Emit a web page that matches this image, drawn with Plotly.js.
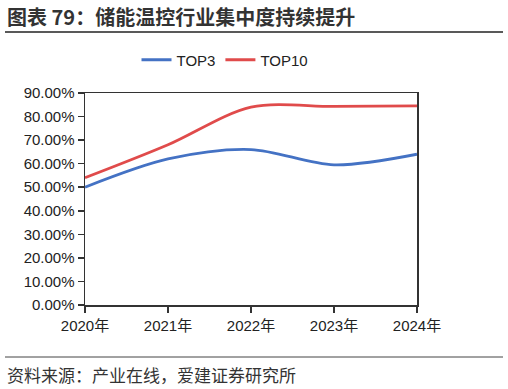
<!DOCTYPE html>
<html>
<head>
<meta charset="utf-8">
<script src="https://cdn.plot.ly/plotly-3.0.1.min.js"></script>
<style>
html,body{margin:0;padding:0;background:#fff;}
#chart{width:508px;height:389px;}
</style>
</head>
<body>
<div id="chart"></div>
<script>
const years = ['2020年', '2021年', '2022年', '2023年', '2024年'];
const top3 = [0.50, 0.62, 0.66, 0.595, 0.64];
const top10 = [0.54, 0.68, 0.84, 0.843, 0.845];
const yTicks = [0, 0.1, 0.2, 0.3, 0.4, 0.5, 0.6, 0.7, 0.8, 0.9];
const titleText = '图表 79：储能温控行业集中度持续提升';
const sourceText = '资料来源：产业在线，爱建证券研究所';

const font = 'Arial, "Liberation Sans", "Noto Sans CJK SC", sans-serif';

const traces = [
  {x: years, y: top3, name: 'TOP3', type: 'scatter', mode: 'lines',
   line: {color: '#4472C4', width: 2.8, shape: 'spline', smoothing: 0.9}},
  {x: years, y: top10, name: 'TOP10', type: 'scatter', mode: 'lines',
   line: {color: '#E04B4B', width: 2.8, shape: 'spline', smoothing: 0.9}}
];

const layout = {
  width: 508, height: 389,
  margin: {l: 85, r: 91, t: 93, b: 84},
  paper_bgcolor: '#fff', plot_bgcolor: '#fff',
  font: {family: font, size: 15, color: '#222'},
  showlegend: true,
  legend: {orientation: 'h', x: 0.5 - 26/332, xanchor: 'center', y: 1 + (93-60)/212, yanchor: 'middle',
           font: {size: 15, color: '#222'}, itemwidth: 30, tracegroupgap: 0},
  xaxis: {type: 'category', range: [0, 4], showgrid: false, zeroline: false,
          showline: true, linecolor: '#333', linewidth: 1.5, mirror: true,
          ticks: 'outside', ticklen: 6, tickcolor: '#333', tickwidth: 1.5,
          tickfont: {size: 15, color: '#222'}, fixedrange: true},
  yaxis: {range: [0, 0.9], tickvals: yTicks, tickformat: '.2%', showgrid: false,
          zeroline: false, showline: true, linecolor: '#333', linewidth: 1.5, mirror: true,
          ticks: 'outside', ticklen: 6, tickcolor: '#333', tickwidth: 1.5,
          tickfont: {size: 15, color: '#222'}, fixedrange: true},
  annotations: [
    {text: '<b>' + titleText + '</b>', xref: 'paper', yref: 'paper',
     x: -80/332, y: 1 + (93-16)/212, xanchor: 'left', yanchor: 'middle', showarrow: false,
     font: {size: 20, color: '#333', family: '"Noto Sans CJK SC", sans-serif'}},
    {text: sourceText, xref: 'paper', yref: 'paper',
     x: -80/332, y: -(374-305)/212, xanchor: 'left', yanchor: 'middle', showarrow: false,
     font: {size: 17, color: '#333', family: '"Noto Sans CJK SC", sans-serif'}}
  ],
  shapes: [
    {type: 'line', xref: 'paper', yref: 'paper', x0: -80/332, x1: 418/332,
     y0: 1 + (93-32)/212, y1: 1 + (93-32)/212, line: {color: '#222', width: 1.5}},
    {type: 'line', xref: 'paper', yref: 'paper', x0: -80/332, x1: 418/332,
     y0: -(357-305)/212, y1: -(357-305)/212, line: {color: '#444', width: 1}}
  ]
};

Plotly.newPlot('chart', traces, layout, {displayModeBar: false, staticPlot: true});
</script>
</body>
</html>
